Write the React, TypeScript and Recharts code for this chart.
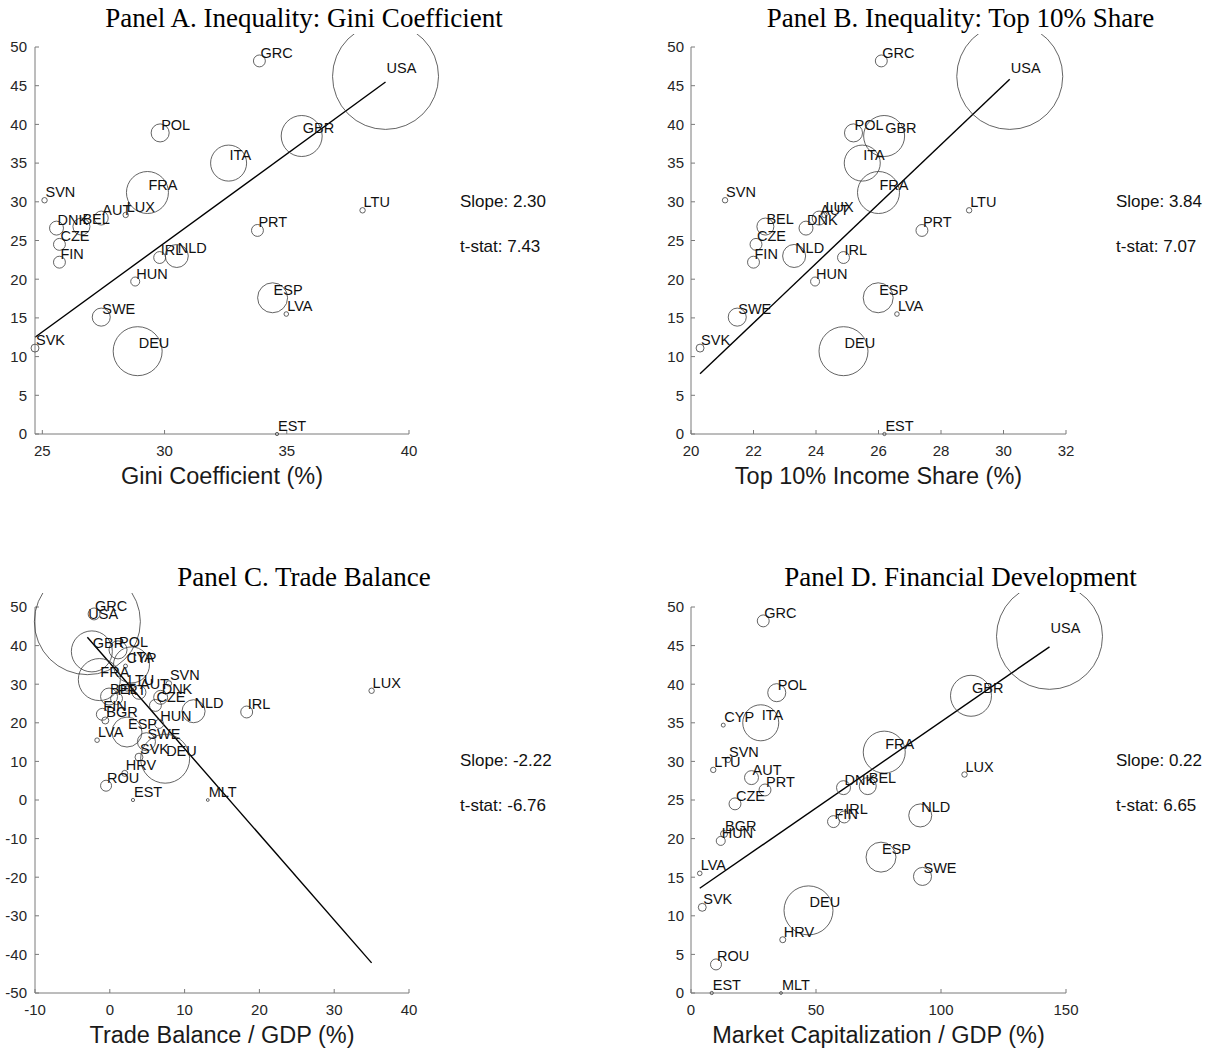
import React from "react";
import { ScatterChart, Scatter, XAxis, YAxis, ZAxis, ReferenceLine } from "recharts";

const SANS = "'Liberation Sans', Arial, Helvetica, sans-serif";
const SERIF = "'Liberation Serif', 'Times New Roman', Times, serif";

// country codes
const countries = ["USA", "GRC", "POL", "GBR", "ITA", "CYP", "FRA", "SVN", "LTU", "AUT", "LUX", "BEL", "DNK", "PRT", "CZE", "IRL", "NLD", "FIN", "BGR", "HUN", "ESP", "LVA", "SWE", "SVK", "DEU", "HRV", "ROU", "EST", "MLT"];
// vertical variable (same in all panels)
const outcome = [46.2, 48.2, 38.9, 38.5, 35.0, 34.7, 31.2, 30.2, 28.9, 27.9, 28.3, 26.8, 26.6, 26.3, 24.5, 22.8, 23.0, 22.2, 20.6, 19.7, 17.6, 15.5, 15.1, 11.1, 10.7, 6.9, 3.7, 0, 0];
// bubble weight (area)
const weight = [21.4, 0.27, 0.62, 3.2, 2.47, 0.03, 3.36, 0.056, 0.056, 0.37, 0.056, 0.55, 0.37, 0.27, 0.27, 0.27, 1.01, 0.27, 0.093, 0.154, 1.71, 0.04, 0.62, 0.12, 4.57, 0.069, 0.23, 0.02, 0.015];
const gini = [39.04, 33.88, 29.82, 35.61, 32.62, null, 29.3, 25.09, 38.1, 27.41, 28.41, 26.6, 25.58, 33.8, 25.7, 29.8, 30.5, 25.7, null, 28.8, 34.42, 34.98, 27.41, 24.7, 28.9, null, null, 34.6, null];
const top10 = [30.2, 26.09, 25.2, 26.18, 25.48, null, 26.0, 21.09, 28.9, 24.1, 24.27, 22.38, 23.68, 27.39, 22.08, 24.88, 23.3, 22.0, null, 23.97, 25.99, 26.59, 21.48, 20.29, 24.88, null, null, 26.19, null];
const trade = [-3.0, -2.1, 1.1, -2.4, 2.9, 2.1, -1.4, 7.9, 2.3, 3.9, 35.0, -0.1, 6.8, 0.9, 6.1, 18.3, 11.2, -1.0, -0.6, 6.6, 2.3, -1.7, 4.9, 3.9, 7.4, 2.0, -0.5, 3.1, 13.1];
const mcap = [143.4, 28.9, 34.3, 112.0, 27.9, 12.9, 77.3, 14.8, 8.9, 24.2, 109.4, 70.7, 61.0, 29.6, 17.6, 61.3, 91.7, 57.0, 13.2, 11.9, 76.0, 3.5, 92.6, 4.5, 47.0, 36.7, 10.0, 8.3, 36.0];

const titles = ["Panel A. Inequality: Gini Coefficient", "Panel B. Inequality: Top 10% Share", "Panel C. Trade Balance", "Panel D. Financial Development"];
const xLabels = ["Gini Coefficient (%)", "Top 10% Income Share (%)", "Trade Balance / GDP (%)", "Market Capitalization / GDP (%)"];
const fitSlope = [2.30, 3.84, -2.22, 0.2236];
const fitIntercept = [-44.31, -70.13, 35.5, 12.78];
const slopeText = ["2.30", "3.84", "-2.22", "0.22"];
const tstatText = ["7.43", "7.07", "-6.76", "6.65"];

const xDomains: [number, number][] = [[24.7, 40], [20, 32], [-10, 40], [0, 150]];
const xTicks = [[25, 30, 35, 40], [20, 22, 24, 26, 28, 30, 32], [-10, 0, 10, 20, 30, 40], [0, 50, 100, 150]];
const yDomains: [number, number][] = [[0, 50], [0, 50], [-50, 50], [0, 50]];
const yTicks = [
  [0, 5, 10, 15, 20, 25, 30, 35, 40, 45, 50],
  [0, 5, 10, 15, 20, 25, 30, 35, 40, 45, 50],
  [-50, -40, -30, -20, -10, 0, 10, 20, 30, 40, 50],
  [0, 5, 10, 15, 20, 25, 30, 35, 40, 45, 50],
];
const xValues = [gini, top10, trade, mcap];

const MAX_R = 53;

const Bubble = (props: any) => {
  const { cx, cy, payload } = props;
  const r = props.width ? props.width / 2 : Math.sqrt((props.size || 0) / Math.PI);
  return (
    <g>
      <circle cx={cx} cy={cy} r={Math.max(r, 1.2)} fill="none" stroke="#3c3c3c" strokeWidth={0.8} />
      <text x={cx + 1} y={cy - 3} fontSize={14.5} fontFamily={SANS} fill="#111">
        {payload.name}
      </text>
    </g>
  );
};

function Panel({ idx, left, top }: { idx: number; left: number; top: number }) {
  const isLeft = idx % 2 === 0;
  const yw = isLeft ? 35 : 71;
  const width = isLeft ? 610 : 596;
  const rightMargin = isLeft ? 201 : 150;
  const topMargin = idx < 2 ? 13 : 14;
  const data = countries
    .map((name, i) => ({ name, x: xValues[idx][i], y: outcome[i], w: weight[i] }))
    .filter((d) => d.x !== null);
  const xs = data.map((d) => d.x as number);
  const x0 = Math.min(...xs);
  const x1 = Math.max(...xs);
  const plotLeft = left + yw;
  const plotW = width - yw - rightMargin;
  return (
    <>
      <div style={{ position: "absolute", left: plotLeft + plotW / 2 + 82 - 300, top: top - 29, width: 600, textAlign: "center", fontFamily: SERIF, fontSize: 27, lineHeight: "27px", color: "#000" }}>
        {titles[idx]}
      </div>
      <div style={{ position: "absolute", left, top }}>
        <ScatterChart width={width} height={430} margin={{ top: topMargin, right: rightMargin, bottom: 0, left: 0 }}>
          <XAxis
            type="number"
            dataKey="x"
            domain={xDomains[idx]}
            ticks={xTicks[idx]}
            height={30}
            tickSize={-4}
            tickMargin={15}
            stroke="#7a7a7a"
            tick={{ fill: "#262626", fontSize: 15, fontFamily: SANS }}
            interval={0}
          />
          <YAxis
            type="number"
            dataKey="y"
            domain={yDomains[idx]}
            ticks={yTicks[idx]}
            width={yw}
            tickSize={-4}
            tickMargin={isLeft ? 12 : 11}
            stroke="#7a7a7a"
            tick={{ fill: "#262626", fontSize: 15, fontFamily: SANS }}
            interval={0}
          />
          <ZAxis type="number" dataKey="w" domain={[0, weight[0]]} range={[0, Math.PI * MAX_R * MAX_R]} />
          <Scatter data={data} shape={<Bubble />} isAnimationActive={false} />
          <ReferenceLine
            segment={[
              { x: x0, y: fitIntercept[idx] + fitSlope[idx] * x0 },
              { x: x1, y: fitIntercept[idx] + fitSlope[idx] * x1 },
            ]}
            stroke="#000"
            strokeWidth={1.4}
            ifOverflow="visible"
          />
        </ScatterChart>
      </div>
      <div style={{ position: "absolute", left: plotLeft + plotW / 2 - 250, top: top + 431, width: 500, textAlign: "center", fontFamily: SANS, fontSize: 23.5, lineHeight: "23.5px", color: "#1a1a1a" }}>
        {xLabels[idx]}
      </div>
      <div style={{ position: "absolute", left: isLeft ? 460 : 1116, top: top + 159, fontFamily: SANS, fontSize: 17, lineHeight: "17px", color: "#111", whiteSpace: "nowrap" }}>
        Slope: {slopeText[idx]}
      </div>
      <div style={{ position: "absolute", left: isLeft ? 460 : 1116, top: top + 204, fontFamily: SANS, fontSize: 17, lineHeight: "17px", color: "#111", whiteSpace: "nowrap" }}>
        t-stat: {tstatText[idx]}
      </div>
    </>
  );
}

export default function App() {
  return (
    <div style={{ position: "absolute", left: 0, top: 0, width: 1216, height: 1051, background: "#fff", overflow: "hidden" }}>
      <Panel idx={0} left={0} top={34} />
      <Panel idx={1} left={620} top={34} />
      <Panel idx={2} left={0} top={593} />
      <Panel idx={3} left={620} top={593} />
    </div>
  );
}
